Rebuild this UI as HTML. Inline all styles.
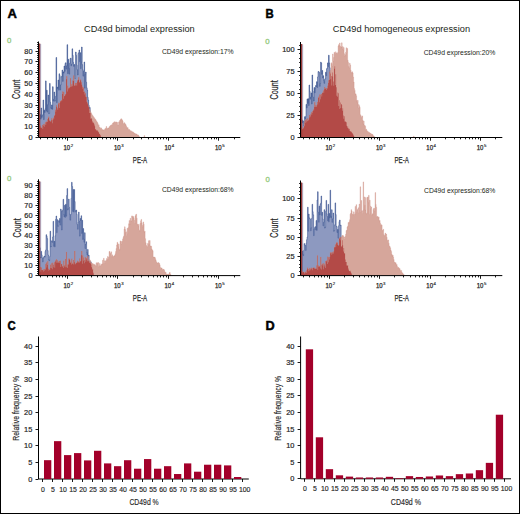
<!DOCTYPE html>
<html><head><meta charset="utf-8"><style>
html,body{margin:0;padding:0;background:#fff;}
svg{display:block;font-family:"Liberation Sans", sans-serif;}
</style></head><body>
<svg width="520" height="514" viewBox="0 0 520 514" font-family="Liberation Sans, sans-serif"><rect x="0" y="0" width="520" height="514" fill="#fff"/><rect x="40.25" y="44.00" width="0.9" height="93.50" fill="#a3aed2"/><path d="M39.60 137.50V114.25H40.10V115.13H40.60V119.09H41.10V108.00H41.60V117.35H42.10V115.69H42.60V114.75H43.10V100.00H43.60V119.59H44.10V110.31H44.60V112.35H45.10V108.68H45.60V80.90H46.10V110.72H46.60V90.20H47.10V112.16H47.60V104.65H48.10V95.00H48.60V113.57H49.10V113.31H49.60V83.40H50.10V102.25H50.60V107.66H51.10V108.69H51.60V104.94H52.10V109.29H52.60V86.70H53.10V101.13H53.60V99.29H54.10V92.00H54.60V101.12H55.10V100.62H55.60V96.27H56.10V57.50H56.60V102.70H57.10V87.09H57.60V88.51H58.10V80.00H58.60V90.20H59.10V73.78H59.60V75.63H60.10V89.96H60.60V84.86H61.10V76.76H61.60V76.49H62.10V70.00H62.60V81.35H63.10V71.83H63.60V73.14H64.10V66.00H64.60V71.32H65.10V63.42H65.60V62.76H66.10V69.16H66.60V65.85H67.10V44.70H67.60V73.59H68.10V59.29H68.60V68.21H69.10V74.18H69.60V63.19H70.10V58.44H70.60V58.24H71.10V65.84H71.60V64.09H72.10V48.80H72.60V55.37H73.10V62.37H73.60V66.39H74.10V64.47H74.60V78.53H75.10V78.53H75.60V52.00H76.10V55.40H76.60V65.15H77.10V69.70H77.60V75.01H78.10V53.40H78.60V52.72H79.10V50.00H79.60V61.69H80.10V52.69H80.60V68.59H81.10V61.89H81.60V47.00H82.10V64.62H82.60V69.68H83.10V76.20H83.60V71.15H84.10V62.00H84.60V88.19H85.10V74.23H85.60V72.00H86.10V82.23H86.60V87.81H87.10V90.09H87.60V97.32H88.10V100.10H88.60V105.19H89.10V112.94H89.60V107.45H90.10V113.05H90.60V118.85H91.10V118.11H91.60V119.37H92.10V121.29H92.60V122.43H93.10V122.48H93.60V123.23H94.10V124.46H94.60V126.29H95.10V129.22H95.60V129.36H96.10V130.58H96.60V130.31H97.10V130.36H97.60V131.16H98.10V131.84H98.60V132.48H99.10V133.93H99.60V133.81H100.10V134.93H100.60V136.44H101.10V137.41H101.60V137.50Z" fill="#8d99c0"/><path d="M39.60 137.50V114.25H40.10V115.13H40.60V119.09H41.10V108.00H41.60V117.35H42.10V115.69H42.60V114.75H43.10V100.00H43.60V119.59H44.10V110.31H44.60V112.35H45.10V108.68H45.60V80.90H46.10V110.72H46.60V90.20H47.10V112.16H47.60V104.65H48.10V95.00H48.60V113.57H49.10V113.31H49.60V83.40H50.10V102.25H50.60V107.66H51.10V108.69H51.60V104.94H52.10V109.29H52.60V86.70H53.10V101.13H53.60V99.29H54.10V92.00H54.60V101.12H55.10V100.62H55.60V96.27H56.10V57.50H56.60V102.70H57.10V87.09H57.60V88.51H58.10V80.00H58.60V90.20H59.10V73.78H59.60V75.63H60.10V89.96H60.60V84.86H61.10V76.76H61.60V76.49H62.10V70.00H62.60V81.35H63.10V71.83H63.60V73.14H64.10V66.00H64.60V71.32H65.10V63.42H65.60V62.76H66.10V69.16H66.60V65.85H67.10V44.70H67.60V73.59H68.10V59.29H68.60V68.21H69.10V74.18H69.60V63.19H70.10V58.44H70.60V58.24H71.10V65.84H71.60V64.09H72.10V48.80H72.60V55.37H73.10V62.37H73.60V66.39H74.10V64.47H74.60V78.53H75.10V78.53H75.60V52.00H76.10V55.40H76.60V65.15H77.10V69.70H77.60V75.01H78.10V53.40H78.60V52.72H79.10V50.00H79.60V61.69H80.10V52.69H80.60V68.59H81.10V61.89H81.60V47.00H82.10V64.62H82.60V69.68H83.10V76.20H83.60V71.15H84.10V62.00H84.60V88.19H85.10V74.23H85.60V72.00H86.10V82.23H86.60V87.81H87.10V90.09H87.60V97.32H88.10V100.10H88.60V105.19H89.10V112.94H89.60V107.45H90.10V113.05H90.60V118.85H91.10V118.11H91.60V119.37H92.10V121.29H92.60V122.43H93.10V122.48H93.60V123.23H94.10V124.46H94.60V126.29H95.10V129.22H95.60V129.36H96.10V130.58H96.60V130.31H97.10V130.36H97.60V131.16H98.10V131.84H98.60V132.48H99.10V133.93H99.60V133.81H100.10V134.93H100.60V136.44H101.10V137.41H101.60V137.50" fill="none" stroke="#2c4888" stroke-width="0.6"/><path d="M39.60 137.50V127.01H40.10V125.84H40.60V127.82H41.10V128.11H41.60V127.49H42.10V125.12H42.60V128.89H43.10V125.71H43.60V123.90H44.10V126.86H44.60V124.37H45.10V122.24H45.60V124.89H46.10V122.37H46.60V121.40H47.10V122.01H47.60V119.08H48.10V118.08H48.60V116.73H49.10V120.17H49.60V121.07H50.10V121.14H50.60V121.69H51.10V120.33H51.60V118.31H52.10V123.34H52.60V119.73H53.10V117.83H53.60V119.26H54.10V115.94H54.60V115.04H55.10V109.85H55.60V111.70H56.10V105.32H56.60V107.10H57.10V108.37H57.60V109.74H58.10V104.13H58.60V102.86H59.10V108.04H59.60V103.07H60.10V100.93H60.60V101.70H61.10V100.01H61.60V101.04H62.10V94.06H62.60V91.51H63.10V98.64H63.60V92.06H64.10V95.99H64.60V96.34H65.10V94.44H65.60V94.23H66.10V79.22H66.60V76.29H67.10V91.56H67.60V85.75H68.10V88.02H68.60V89.23H69.10V87.81H69.60V87.49H70.10V78.27H70.60V86.93H71.10V86.42H71.60V84.14H72.10V86.28H72.60V80.43H73.10V81.06H73.60V75.60H74.10V85.70H74.60V85.38H75.10V83.12H75.60V85.52H76.10V83.03H76.60V85.39H77.10V81.60H77.60V80.00H78.10V79.79H78.60V77.35H79.10V82.37H79.60V82.56H80.10V79.48H80.60V80.40H81.10V82.29H81.60V84.81H82.10V86.78H82.60V88.72H83.10V87.55H83.60V92.10H84.10V91.54H84.60V94.39H85.10V93.28H85.60V96.66H86.10V96.98H86.60V101.69H87.10V102.84H87.60V104.33H88.10V106.28H88.60V107.34H89.10V108.85H89.60V109.90H90.10V111.61H90.60V112.36H91.10V113.24H91.60V114.29H92.10V115.35H92.60V115.63H93.10V116.62H93.60V117.56H94.10V117.83H94.60V118.73H95.10V119.33H95.60V119.85H96.10V120.88H96.60V121.83H97.10V122.21H97.60V123.53H98.10V125.79H98.60V124.79H99.10V127.79H99.60V127.06H100.10V128.50H100.60V128.37H101.10V127.90H101.60V129.58H102.10V130.05H102.60V129.51H103.10V130.10H103.60V130.31H104.10V130.15H104.60V129.14H105.10V128.46H105.60V128.62H106.10V126.47H106.60V128.81H107.10V128.86H107.60V128.03H108.10V127.97H108.60V127.97H109.10V126.73H109.60V126.41H110.10V125.76H110.60V125.29H111.10V125.34H111.60V124.77H112.10V124.39H112.60V123.00H113.10V123.05H113.60V122.20H114.10V122.24H114.60V121.70H115.10V122.18H115.60V122.30H116.10V121.97H116.60V122.16H117.10V122.52H117.60V124.99H118.10V124.95H118.60V121.92H119.10V121.67H119.60V120.49H120.10V120.00H120.60V119.02H121.10V118.79H121.60V119.54H122.10V120.09H122.60V121.32H123.10V123.50H123.60V123.67H124.10V122.67H124.60V123.50H125.10V124.01H125.60V124.77H126.10V126.01H126.60V127.61H127.10V128.28H127.60V127.58H128.10V129.18H128.60V129.68H129.10V129.47H129.60V130.23H130.10V130.67H130.60V130.89H131.10V130.94H131.60V131.72H132.10V131.71H132.60V131.95H133.10V132.11H133.60V132.99H134.10V133.04H134.60V133.59H135.10V133.68H135.60V134.18H136.10V133.99H136.60V134.17H137.10V134.95H137.60V135.24H138.10V134.96H138.60V135.97H139.10V136.73H139.60V137.50ZM144.10 137.50V135.60H144.60V137.50Z" fill="#d6a69b" stroke="#cd8f82" stroke-width="0.35"/><path d="M39.60 137.50V127.01H40.10V125.84H40.60V127.82H41.10V128.11H41.60V127.49H42.10V125.12H42.60V128.89H43.10V125.71H43.60V123.90H44.10V126.86H44.60V124.37H45.10V122.24H45.60V124.89H46.10V122.37H46.60V121.40H47.10V122.01H47.60V119.08H48.10V118.08H48.60V116.73H49.10V120.17H49.60V121.07H50.10V121.14H50.60V121.69H51.10V120.33H51.60V118.31H52.10V123.34H52.60V119.73H53.10V117.83H53.60V119.26H54.10V115.94H54.60V115.04H55.10V109.85H55.60V111.70H56.10V105.32H56.60V107.10H57.10V108.37H57.60V109.74H58.10V104.13H58.60V102.86H59.10V108.04H59.60V103.07H60.10V100.93H60.60V101.70H61.10V100.01H61.60V101.04H62.10V94.06H62.60V91.51H63.10V98.64H63.60V92.06H64.10V95.99H64.60V96.34H65.10V94.44H65.60V94.23H66.10V79.22H66.60V76.29H67.10V91.56H67.60V85.75H68.10V88.02H68.60V89.23H69.10V87.81H69.60V87.49H70.10V78.27H70.60V86.93H71.10V86.42H71.60V84.14H72.10V86.28H72.60V80.43H73.10V81.06H73.60V75.60H74.10V85.70H74.60V85.38H75.10V83.12H75.60V85.52H76.10V83.03H76.60V85.39H77.10V81.60H77.60V80.00H78.10V79.79H78.60V77.35H79.10V82.37H79.60V82.56H80.10V79.48H80.60V80.40H81.10V82.29H81.60V84.81H82.10V86.78H82.60V88.72H83.10V87.55H83.60V92.10H84.10V91.54H84.60V94.39H85.10V93.28H85.60V96.66H86.10V96.98H86.60V101.69H87.10V102.84H87.60V104.33H88.10V106.28H88.60V107.34H89.10V112.94H89.60V109.90H90.10V113.05H90.60V118.85H91.10V118.11H91.60V119.37H92.10V121.29H92.60V122.43H93.10V122.48H93.60V123.23H94.10V124.46H94.60V126.29H95.10V129.22H95.60V129.36H96.10V130.58H96.60V130.31H97.10V130.36H97.60V131.16H98.10V131.84H98.60V132.48H99.10V133.93H99.60V133.81H100.10V134.93H100.60V136.44H101.10V137.41H101.60V137.50Z" fill="#b34a47"/><rect x="39.00" y="43.50" width="1.25" height="94.00" fill="#9a3a36"/><path d="M38.50 41.50V137.50H240.30" fill="none" stroke="#000" stroke-width="1"/><path d="M35.50 137.50H38.50M37.10 135.50H38.50M37.10 133.50H38.50M37.10 131.50H38.50M37.10 128.50H38.50M35.50 126.50H38.50M37.10 124.50H38.50M37.10 122.50H38.50M37.10 120.50H38.50M37.10 118.50H38.50M35.50 115.50H38.50M37.10 113.50H38.50M37.10 111.50H38.50M37.10 109.50H38.50M37.10 107.50H38.50M35.50 105.50H38.50M37.10 102.50H38.50M37.10 100.50H38.50M37.10 98.50H38.50M37.10 96.50H38.50M35.50 94.50H38.50M37.10 92.50H38.50M37.10 89.50H38.50M37.10 87.50H38.50M37.10 85.50H38.50M35.50 83.50H38.50M37.10 81.50H38.50M37.10 79.50H38.50M37.10 77.50H38.50M37.10 74.50H38.50M35.50 72.50H38.50M37.10 70.50H38.50M37.10 68.50H38.50M37.10 66.50H38.50M37.10 64.50H38.50M35.50 61.50H38.50M37.10 59.50H38.50M37.10 57.50H38.50M37.10 55.50H38.50M37.10 53.50H38.50M35.50 51.50H38.50M37.10 48.50H38.50M37.10 46.50H38.50M37.10 44.50H38.50M37.10 42.50H38.50M40.50 137.50V139.30M47.50 137.50V139.30M52.50 137.50V139.30M56.50 137.50V139.30M59.50 137.50V139.30M62.50 137.50V139.30M65.50 137.50V139.30M67.50 137.50V140.70M82.50 137.50V139.30M91.50 137.50V139.30M97.50 137.50V139.30M102.50 137.50V139.30M106.50 137.50V139.30M110.50 137.50V139.30M113.50 137.50V139.30M115.50 137.50V139.30M117.50 137.50V140.70M133.50 137.50V139.30M141.50 137.50V139.30M148.50 137.50V139.30M153.50 137.50V139.30M157.50 137.50V139.30M160.50 137.50V139.30M163.50 137.50V139.30M166.50 137.50V139.30M168.50 137.50V140.70M183.50 137.50V139.30M192.50 137.50V139.30M198.50 137.50V139.30M203.50 137.50V139.30M207.50 137.50V139.30M211.50 137.50V139.30M214.50 137.50V139.30M216.50 137.50V139.30M218.50 137.50V140.70M234.50 137.50V139.30" stroke="#000" stroke-width="0.9" fill="none"/><text x="32.50" y="140.00" font-size="7.4" fill="#262626" stroke="#262626" stroke-width="0.2" text-anchor="end">0</text><text x="32.50" y="129.20" font-size="7.4" fill="#262626" stroke="#262626" stroke-width="0.2" text-anchor="end">10</text><text x="32.50" y="118.40" font-size="7.4" fill="#262626" stroke="#262626" stroke-width="0.2" text-anchor="end">20</text><text x="32.50" y="107.60" font-size="7.4" fill="#262626" stroke="#262626" stroke-width="0.2" text-anchor="end">30</text><text x="32.50" y="96.80" font-size="7.4" fill="#262626" stroke="#262626" stroke-width="0.2" text-anchor="end">40</text><text x="32.50" y="86.00" font-size="7.4" fill="#262626" stroke="#262626" stroke-width="0.2" text-anchor="end">50</text><text x="32.50" y="75.20" font-size="7.4" fill="#262626" stroke="#262626" stroke-width="0.2" text-anchor="end">60</text><text x="32.50" y="64.40" font-size="7.4" fill="#262626" stroke="#262626" stroke-width="0.2" text-anchor="end">70</text><text x="32.50" y="53.60" font-size="7.4" fill="#262626" stroke="#262626" stroke-width="0.2" text-anchor="end">80</text><text x="63.50" y="149.70" font-size="6.8" fill="#262626" stroke="#262626" stroke-width="0.25" textLength="6.70" lengthAdjust="spacingAndGlyphs">10</text><text x="70.70" y="146.60" font-size="4.3" fill="#262626" stroke="#262626" stroke-width="0.15">2</text><text x="114.00" y="149.70" font-size="6.8" fill="#262626" stroke="#262626" stroke-width="0.25" textLength="6.70" lengthAdjust="spacingAndGlyphs">10</text><text x="121.20" y="146.60" font-size="4.3" fill="#262626" stroke="#262626" stroke-width="0.15">3</text><text x="164.50" y="149.70" font-size="6.8" fill="#262626" stroke="#262626" stroke-width="0.25" textLength="6.70" lengthAdjust="spacingAndGlyphs">10</text><text x="171.70" y="146.60" font-size="4.3" fill="#262626" stroke="#262626" stroke-width="0.15">4</text><text x="215.00" y="149.70" font-size="6.8" fill="#262626" stroke="#262626" stroke-width="0.25" textLength="6.70" lengthAdjust="spacingAndGlyphs">10</text><text x="222.20" y="146.60" font-size="4.3" fill="#262626" stroke="#262626" stroke-width="0.15">5</text><rect x="40.25" y="181.80" width="0.9" height="93.80" fill="#a3aed2"/><path d="M39.60 275.60V247.77H40.10V257.27H40.60V258.00H41.10V251.41H41.60V254.86H42.10V257.87H42.60V261.83H43.10V258.32H43.60V257.08H44.10V256.08H44.60V257.13H45.10V251.40H45.60V250.01H46.10V234.70H46.60V236.30H47.10V238.59H47.60V250.57H48.10V255.04H48.60V259.60H49.10V260.60H49.60V256.58H50.10V231.20H50.60V246.93H51.10V246.49H51.60V240.78H52.10V242.43H52.60V236.95H53.10V221.30H53.60V246.31H54.10V241.17H54.60V246.84H55.10V235.72H55.60V219.36H56.10V216.00H56.60V232.66H57.10V219.64H57.60V226.20H58.10V226.06H58.60V220.63H59.10V222.41H59.60V218.44H60.10V225.15H60.60V209.01H61.10V210.73H61.60V230.00H62.10V211.25H62.60V209.92H63.10V199.30H63.60V214.57H64.10V216.83H64.60V205.26H65.10V217.40H65.60V204.28H66.10V216.11H66.60V195.56H67.10V188.60H67.60V210.01H68.10V208.33H68.60V199.08H69.10V207.33H69.60V214.25H70.10V220.21H70.60V214.56H71.10V198.40H71.60V182.30H72.10V186.53H72.60V211.32H73.10V189.48H73.60V212.14H74.10V189.60H74.60V201.60H75.10V210.38H75.60V211.96H76.10V210.09H76.60V214.32H77.10V224.42H77.60V229.23H78.10V222.10H78.60V212.09H79.10V221.27H79.60V236.07H80.10V218.40H80.60V220.49H81.10V215.74H81.60V233.37H82.10V220.32H82.60V239.37H83.10V228.55H83.60V239.14H84.10V242.25H84.60V232.69H85.10V248.59H85.60V244.12H86.10V241.75H86.60V252.56H87.10V255.03H87.60V249.42H88.10V256.17H88.60V255.16H89.10V262.84H89.60V261.17H90.10V263.56H90.60V261.82H91.10V267.15H91.60V264.46H92.10V269.76H92.60V268.66H93.10V272.87H93.60V274.87H94.10V275.60Z" fill="#8d99c0"/><path d="M39.60 275.60V247.77H40.10V257.27H40.60V258.00H41.10V251.41H41.60V254.86H42.10V257.87H42.60V261.83H43.10V258.32H43.60V257.08H44.10V256.08H44.60V257.13H45.10V251.40H45.60V250.01H46.10V234.70H46.60V236.30H47.10V238.59H47.60V250.57H48.10V255.04H48.60V259.60H49.10V260.60H49.60V256.58H50.10V231.20H50.60V246.93H51.10V246.49H51.60V240.78H52.10V242.43H52.60V236.95H53.10V221.30H53.60V246.31H54.10V241.17H54.60V246.84H55.10V235.72H55.60V219.36H56.10V216.00H56.60V232.66H57.10V219.64H57.60V226.20H58.10V226.06H58.60V220.63H59.10V222.41H59.60V218.44H60.10V225.15H60.60V209.01H61.10V210.73H61.60V230.00H62.10V211.25H62.60V209.92H63.10V199.30H63.60V214.57H64.10V216.83H64.60V205.26H65.10V217.40H65.60V204.28H66.10V216.11H66.60V195.56H67.10V188.60H67.60V210.01H68.10V208.33H68.60V199.08H69.10V207.33H69.60V214.25H70.10V220.21H70.60V214.56H71.10V198.40H71.60V182.30H72.10V186.53H72.60V211.32H73.10V189.48H73.60V212.14H74.10V189.60H74.60V201.60H75.10V210.38H75.60V211.96H76.10V210.09H76.60V214.32H77.10V224.42H77.60V229.23H78.10V222.10H78.60V212.09H79.10V221.27H79.60V236.07H80.10V218.40H80.60V220.49H81.10V215.74H81.60V233.37H82.10V220.32H82.60V239.37H83.10V228.55H83.60V239.14H84.10V242.25H84.60V232.69H85.10V248.59H85.60V244.12H86.10V241.75H86.60V252.56H87.10V255.03H87.60V249.42H88.10V256.17H88.60V255.16H89.10V262.84H89.60V261.17H90.10V263.56H90.60V261.82H91.10V267.15H91.60V264.46H92.10V269.76H92.60V268.66H93.10V272.87H93.60V274.87H94.10V275.60" fill="none" stroke="#2c4888" stroke-width="0.55"/><path d="M39.60 275.60V271.02H40.10V266.96H40.60V271.63H41.10V267.53H41.60V270.10H42.10V270.09H42.60V270.26H43.10V271.43H43.60V269.21H44.10V270.84H44.60V269.09H45.10V269.84H45.60V263.96H46.10V262.56H46.60V267.44H47.10V264.91H47.60V261.23H48.10V268.67H48.60V270.83H49.10V269.56H49.60V269.99H50.10V264.81H50.60V268.05H51.10V268.14H51.60V263.17H52.10V269.16H52.60V262.82H53.10V264.78H53.60V267.23H54.10V262.37H54.60V267.65H55.10V261.52H55.60V260.27H56.10V259.20H56.60V262.67H57.10V260.21H57.60V262.65H58.10V262.70H58.60V261.58H59.10V261.00H59.60V262.91H60.10V260.80H60.60V267.02H61.10V264.31H61.60V263.95H62.10V266.44H62.60V266.20H63.10V267.91H63.60V260.78H64.10V266.49H64.60V265.27H65.10V259.01H65.60V267.16H66.10V252.00H66.60V267.31H67.10V267.92H67.60V264.40H68.10V264.42H68.60V258.69H69.10V258.87H69.60V259.96H70.10V262.98H70.60V261.79H71.10V264.48H71.60V258.79H72.10V263.16H72.60V264.09H73.10V260.05H73.60V264.53H74.10V262.23H74.60V251.00H75.10V264.23H75.60V263.60H76.10V262.88H76.60V262.41H77.10V260.78H77.60V262.40H78.10V261.57H78.60V262.41H79.10V262.49H79.60V258.56H80.10V261.54H80.60V261.06H81.10V255.30H81.60V251.00H82.10V263.68H82.60V255.42H83.10V260.74H83.60V257.45H84.10V263.23H84.60V260.08H85.10V257.23H85.60V261.67H86.10V258.12H86.60V259.49H87.10V261.24H87.60V256.02H88.10V261.26H88.60V260.62H89.10V259.41H89.60V262.16H90.10V260.32H90.60V262.32H91.10V263.02H91.60V263.69H92.10V263.46H92.60V263.67H93.10V263.89H93.60V264.67H94.10V264.75H94.60V264.45H95.10V265.52H95.60V265.54H96.10V262.77H96.60V265.95H97.10V262.72H97.60V263.94H98.10V262.59H98.60V266.80H99.10V265.63H99.60V263.44H100.10V265.97H100.60V265.46H101.10V264.23H101.60V264.22H102.10V263.77H102.60V260.17H103.10V263.15H103.60V258.23H104.10V260.77H104.60V263.53H105.10V260.85H105.60V262.38H106.10V260.26H106.60V258.56H107.10V259.61H107.60V256.46H108.10V258.43H108.60V257.06H109.10V251.48H109.60V251.56H110.10V253.69H110.60V252.88H111.10V251.83H111.60V256.60H112.10V254.85H112.60V256.61H113.10V256.49H113.60V256.33H114.10V255.59H114.60V255.77H115.10V253.80H115.60V251.57H116.10V248.49H116.60V245.07H117.10V242.24H117.60V243.58H118.10V246.71H118.60V244.13H119.10V250.11H119.60V248.88H120.10V240.90H120.60V241.38H121.10V244.06H121.60V241.58H122.10V241.17H122.60V238.96H123.10V237.37H123.60V236.01H124.10V229.11H124.60V226.71H125.10V229.61H125.60V232.28H126.10V235.39H126.60V231.73H127.10V228.30H127.60V233.41H128.10V227.46H128.60V223.78H129.10V220.53H129.60V224.11H130.10V218.27H130.60V221.27H131.10V220.63H131.60V215.92H132.10V215.96H132.60V216.99H133.10V216.56H133.60V217.83H134.10V220.16H134.60V223.23H135.10V216.01H135.60V214.81H136.10V214.22H136.60V218.13H137.10V224.31H137.60V224.20H138.10V225.91H138.60V224.39H139.10V229.99H139.60V231.09H140.10V223.32H140.60V220.83H141.10V219.39H141.60V222.69H142.10V225.21H142.60V226.81H143.10V221.94H143.60V224.17H144.10V232.07H144.60V231.14H145.10V238.63H145.60V242.87H146.10V245.29H146.60V246.16H147.10V246.81H147.60V243.47H148.10V244.55H148.60V240.70H149.10V244.24H149.60V240.45H150.10V245.89H150.60V245.93H151.10V246.36H151.60V248.97H152.10V250.08H152.60V250.76H153.10V256.96H153.60V257.10H154.10V257.42H154.60V257.00H155.10V258.55H155.60V259.91H156.10V261.64H156.60V262.47H157.10V263.11H157.60V263.28H158.10V262.46H158.60V263.28H159.10V263.36H159.60V264.86H160.10V267.14H160.60V268.40H161.10V268.09H161.60V267.93H162.10V269.66H162.60V269.24H163.10V269.50H163.60V269.34H164.10V270.18H164.60V271.66H165.10V272.57H165.60V272.37H166.10V273.96H166.60V274.82H167.10V273.99H167.60V275.05H168.10V274.56H168.60V273.96H169.10V273.48H169.60V272.35H170.10V274.06H170.60V274.88H171.10V275.60Z" fill="#d6a69b" stroke="#cd8f82" stroke-width="0.35"/><path d="M39.60 275.60V271.02H40.10V266.96H40.60V271.63H41.10V267.53H41.60V270.10H42.10V270.09H42.60V270.26H43.10V271.43H43.60V269.21H44.10V270.84H44.60V269.09H45.10V269.84H45.60V263.96H46.10V262.56H46.60V267.44H47.10V264.91H47.60V261.23H48.10V268.67H48.60V270.83H49.10V269.56H49.60V269.99H50.10V264.81H50.60V268.05H51.10V268.14H51.60V263.17H52.10V269.16H52.60V262.82H53.10V264.78H53.60V267.23H54.10V262.37H54.60V267.65H55.10V261.52H55.60V260.27H56.10V259.20H56.60V262.67H57.10V260.21H57.60V262.65H58.10V262.70H58.60V261.58H59.10V261.00H59.60V262.91H60.10V260.80H60.60V267.02H61.10V264.31H61.60V263.95H62.10V266.44H62.60V266.20H63.10V267.91H63.60V260.78H64.10V266.49H64.60V265.27H65.10V259.01H65.60V267.16H66.10V252.00H66.60V267.31H67.10V267.92H67.60V264.40H68.10V264.42H68.60V258.69H69.10V258.87H69.60V259.96H70.10V262.98H70.60V261.79H71.10V264.48H71.60V258.79H72.10V263.16H72.60V264.09H73.10V260.05H73.60V264.53H74.10V262.23H74.60V251.00H75.10V264.23H75.60V263.60H76.10V262.88H76.60V262.41H77.10V260.78H77.60V262.40H78.10V261.57H78.60V262.41H79.10V262.49H79.60V258.56H80.10V261.54H80.60V261.06H81.10V255.30H81.60V251.00H82.10V263.68H82.60V255.42H83.10V260.74H83.60V257.45H84.10V263.23H84.60V260.08H85.10V257.23H85.60V261.67H86.10V258.12H86.60V259.49H87.10V261.24H87.60V256.02H88.10V261.26H88.60V260.62H89.10V262.84H89.60V262.16H90.10V263.56H90.60V262.32H91.10V267.15H91.60V264.46H92.10V269.76H92.60V268.66H93.10V272.87H93.60V274.87H94.10V275.60Z" fill="#b34a47"/><rect x="39.00" y="181.30" width="1.25" height="94.30" fill="#9a3a36"/><path d="M38.50 179.30V275.60H240.30" fill="none" stroke="#000" stroke-width="1"/><path d="M35.50 275.50H38.50M37.10 273.50H38.50M37.10 271.50H38.50M37.10 269.50H38.50M37.10 267.50H38.50M35.50 265.50H38.50M37.10 263.50H38.50M37.10 261.50H38.50M37.10 259.50H38.50M37.10 257.50H38.50M35.50 255.50H38.50M37.10 253.50H38.50M37.10 251.50H38.50M37.10 249.50H38.50M37.10 247.50H38.50M35.50 245.50H38.50M37.10 243.50H38.50M37.10 241.50H38.50M37.10 239.50H38.50M37.10 237.50H38.50M35.50 235.50H38.50M37.10 233.50H38.50M37.10 231.50H38.50M37.10 229.50H38.50M37.10 227.50H38.50M35.50 225.50H38.50M37.10 223.50H38.50M37.10 221.50H38.50M37.10 219.50H38.50M37.10 217.50H38.50M35.50 215.50H38.50M37.10 213.50H38.50M37.10 211.50H38.50M37.10 209.50H38.50M37.10 207.50H38.50M35.50 205.50H38.50M37.10 203.50H38.50M37.10 201.50H38.50M37.10 199.50H38.50M37.10 197.50H38.50M35.50 195.50H38.50M37.10 193.50H38.50M37.10 191.50H38.50M37.10 189.50H38.50M37.10 187.50H38.50M35.50 185.50H38.50M37.10 183.50H38.50M37.10 181.50H38.50M40.50 275.60V277.40M47.50 275.60V277.40M52.50 275.60V277.40M56.50 275.60V277.40M59.50 275.60V277.40M62.50 275.60V277.40M65.50 275.60V277.40M67.50 275.60V278.80M82.50 275.60V277.40M91.50 275.60V277.40M97.50 275.60V277.40M102.50 275.60V277.40M106.50 275.60V277.40M110.50 275.60V277.40M113.50 275.60V277.40M115.50 275.60V277.40M117.50 275.60V278.80M133.50 275.60V277.40M141.50 275.60V277.40M148.50 275.60V277.40M153.50 275.60V277.40M157.50 275.60V277.40M160.50 275.60V277.40M163.50 275.60V277.40M166.50 275.60V277.40M168.50 275.60V278.80M183.50 275.60V277.40M192.50 275.60V277.40M198.50 275.60V277.40M203.50 275.60V277.40M207.50 275.60V277.40M211.50 275.60V277.40M214.50 275.60V277.40M216.50 275.60V277.40M218.50 275.60V278.80M234.50 275.60V277.40" stroke="#000" stroke-width="0.9" fill="none"/><text x="32.50" y="278.10" font-size="7.4" fill="#262626" stroke="#262626" stroke-width="0.2" text-anchor="end">0</text><text x="32.50" y="268.10" font-size="7.4" fill="#262626" stroke="#262626" stroke-width="0.2" text-anchor="end">10</text><text x="32.50" y="258.10" font-size="7.4" fill="#262626" stroke="#262626" stroke-width="0.2" text-anchor="end">20</text><text x="32.50" y="248.10" font-size="7.4" fill="#262626" stroke="#262626" stroke-width="0.2" text-anchor="end">30</text><text x="32.50" y="238.10" font-size="7.4" fill="#262626" stroke="#262626" stroke-width="0.2" text-anchor="end">40</text><text x="32.50" y="228.10" font-size="7.4" fill="#262626" stroke="#262626" stroke-width="0.2" text-anchor="end">50</text><text x="32.50" y="218.10" font-size="7.4" fill="#262626" stroke="#262626" stroke-width="0.2" text-anchor="end">60</text><text x="32.50" y="208.10" font-size="7.4" fill="#262626" stroke="#262626" stroke-width="0.2" text-anchor="end">70</text><text x="32.50" y="198.10" font-size="7.4" fill="#262626" stroke="#262626" stroke-width="0.2" text-anchor="end">80</text><text x="32.50" y="188.10" font-size="7.4" fill="#262626" stroke="#262626" stroke-width="0.2" text-anchor="end">90</text><text x="63.50" y="287.80" font-size="6.8" fill="#262626" stroke="#262626" stroke-width="0.25" textLength="6.70" lengthAdjust="spacingAndGlyphs">10</text><text x="70.70" y="284.70" font-size="4.3" fill="#262626" stroke="#262626" stroke-width="0.15">2</text><text x="114.00" y="287.80" font-size="6.8" fill="#262626" stroke="#262626" stroke-width="0.25" textLength="6.70" lengthAdjust="spacingAndGlyphs">10</text><text x="121.20" y="284.70" font-size="4.3" fill="#262626" stroke="#262626" stroke-width="0.15">3</text><text x="164.50" y="287.80" font-size="6.8" fill="#262626" stroke="#262626" stroke-width="0.25" textLength="6.70" lengthAdjust="spacingAndGlyphs">10</text><text x="171.70" y="284.70" font-size="4.3" fill="#262626" stroke="#262626" stroke-width="0.15">4</text><text x="215.00" y="287.80" font-size="6.8" fill="#262626" stroke="#262626" stroke-width="0.25" textLength="6.70" lengthAdjust="spacingAndGlyphs">10</text><text x="222.20" y="284.70" font-size="4.3" fill="#262626" stroke="#262626" stroke-width="0.15">5</text><rect x="302.25" y="44.50" width="0.9" height="93.00" fill="#a3aed2"/><path d="M301.10 137.50V123.09H301.60V119.69H302.10V122.84H302.60V120.73H303.10V121.04H303.60V125.85H304.10V125.71H304.60V116.71H305.10V119.16H305.60V116.42H306.10V104.38H306.60V107.83H307.10V98.92H307.60V103.36H308.10V98.72H308.60V105.54H309.10V85.00H309.60V91.38H310.10V99.11H310.60V97.11H311.10V92.93H311.60V103.96H312.10V75.00H312.60V91.13H313.10V97.24H313.60V100.99H314.10V87.51H314.60V92.77H315.10V88.59H315.60V85.60H316.10V86.51H316.60V81.72H317.10V87.53H317.60V76.91H318.10V71.50H318.60V71.86H319.10V72.38H319.60V86.38H320.10V83.49H320.60V62.20H321.10V62.90H321.60V74.31H322.10V70.45H322.60V77.98H323.10V75.73H323.60V80.46H324.10V83.34H324.60V79.18H325.10V78.70H325.60V72.24H326.10V75.69H326.60V68.76H327.10V67.89H327.60V62.89H328.10V66.60H328.60V55.20H329.10V62.90H329.60V67.72H330.10V73.53H330.60V79.18H331.10V75.97H331.60V85.38H332.10V72.43H332.60V76.47H333.10V81.56H333.60V85.87H334.10V68.84H334.60V66.20H335.10V85.03H335.60V74.30H336.10V87.28H336.60V95.69H337.10V96.83H337.60V92.53H338.10V93.23H338.60V106.11H339.10V100.35H339.60V109.00H340.10V102.43H340.60V108.04H341.10V103.96H341.60V104.72H342.10V110.65H342.60V108.19H343.10V115.38H343.60V118.76H344.10V116.16H344.60V121.57H345.10V121.59H345.60V121.66H346.10V122.13H346.60V125.84H347.10V127.75H347.60V126.15H348.10V129.21H348.60V128.04H349.10V128.89H349.60V130.78H350.10V131.18H350.60V131.57H351.10V131.86H351.60V132.48H352.10V133.06H352.60V133.91H353.10V134.63H353.60V135.95H354.10V136.73H354.60V137.30H355.10V137.50Z" fill="#8d99c0"/><path d="M301.10 137.50V123.09H301.60V119.69H302.10V122.84H302.60V120.73H303.10V121.04H303.60V125.85H304.10V125.71H304.60V116.71H305.10V119.16H305.60V116.42H306.10V104.38H306.60V107.83H307.10V98.92H307.60V103.36H308.10V98.72H308.60V105.54H309.10V85.00H309.60V91.38H310.10V99.11H310.60V97.11H311.10V92.93H311.60V103.96H312.10V75.00H312.60V91.13H313.10V97.24H313.60V100.99H314.10V87.51H314.60V92.77H315.10V88.59H315.60V85.60H316.10V86.51H316.60V81.72H317.10V87.53H317.60V76.91H318.10V71.50H318.60V71.86H319.10V72.38H319.60V86.38H320.10V83.49H320.60V62.20H321.10V62.90H321.60V74.31H322.10V70.45H322.60V77.98H323.10V75.73H323.60V80.46H324.10V83.34H324.60V79.18H325.10V78.70H325.60V72.24H326.10V75.69H326.60V68.76H327.10V67.89H327.60V62.89H328.10V66.60H328.60V55.20H329.10V62.90H329.60V67.72H330.10V73.53H330.60V79.18H331.10V75.97H331.60V85.38H332.10V72.43H332.60V76.47H333.10V81.56H333.60V85.87H334.10V68.84H334.60V66.20H335.10V85.03H335.60V74.30H336.10V87.28H336.60V95.69H337.10V96.83H337.60V92.53H338.10V93.23H338.60V106.11H339.10V100.35H339.60V109.00H340.10V102.43H340.60V108.04H341.10V103.96H341.60V104.72H342.10V110.65H342.60V108.19H343.10V115.38H343.60V118.76H344.10V116.16H344.60V121.57H345.10V121.59H345.60V121.66H346.10V122.13H346.60V125.84H347.10V127.75H347.60V126.15H348.10V129.21H348.60V128.04H349.10V128.89H349.60V130.78H350.10V131.18H350.60V131.57H351.10V131.86H351.60V132.48H352.10V133.06H352.60V133.91H353.10V134.63H353.60V135.95H354.10V136.73H354.60V137.30H355.10V137.50" fill="none" stroke="#2c4888" stroke-width="0.6"/><path d="M301.60 137.50V127.30H302.10V129.14H302.60V128.94H303.10V128.19H303.60V127.23H304.10V123.80H304.60V121.53H305.10V119.91H305.60V123.01H306.10V119.13H306.60V121.84H307.10V120.88H307.60V118.37H308.10V120.57H308.60V119.77H309.10V114.94H309.60V117.53H310.10V116.42H310.60V114.17H311.10V112.36H311.60V114.84H312.10V112.69H312.60V111.02H313.10V109.62H313.60V110.44H314.10V106.96H314.60V102.36H315.10V107.06H315.60V105.16H316.10V106.93H316.60V105.49H317.10V101.92H317.60V104.61H318.10V97.94H318.60V96.79H319.10V102.30H319.60V94.57H320.10V99.24H320.60V94.79H321.10V94.10H321.60V96.54H322.10V93.06H322.60V92.38H323.10V90.42H323.60V92.79H324.10V89.22H324.60V87.04H325.10V88.56H325.60V88.84H326.10V90.00H326.60V88.07H327.10V88.39H327.60V85.63H328.10V83.01H328.60V80.25H329.10V80.06H329.60V71.86H330.10V70.23H330.60V72.97H331.10V62.80H331.60V63.73H332.10V66.09H332.60V54.02H333.10V60.94H333.60V57.53H334.10V52.24H334.60V53.29H335.10V53.54H335.60V51.81H336.10V52.96H336.60V53.52H337.10V53.41H337.60V52.60H338.10V46.01H338.60V44.63H339.10V45.77H339.60V42.96H340.10V46.06H340.60V47.22H341.10V47.10H341.60V42.76H342.10V48.95H342.60V46.62H343.10V49.85H343.60V47.55H344.10V53.66H344.60V56.06H345.10V54.83H345.60V52.29H346.10V47.78H346.60V52.63H347.10V48.43H347.60V60.37H348.10V62.45H348.60V66.47H349.10V67.63H349.60V63.18H350.10V64.93H350.60V70.36H351.10V72.24H351.60V72.83H352.10V71.82H352.60V73.02H353.10V77.04H353.60V82.04H354.10V88.55H354.60V90.39H355.10V93.90H355.60V93.85H356.10V95.74H356.60V100.61H357.10V102.60H357.60V100.33H358.10V107.95H358.60V104.58H359.10V105.78H359.60V107.32H360.10V114.64H360.60V115.44H361.10V116.70H361.60V117.78H362.10V115.91H362.60V120.28H363.10V124.12H363.60V121.01H364.10V125.15H364.60V125.48H365.10V126.14H365.60V129.66H366.10V129.18H366.60V130.60H367.10V131.15H367.60V131.48H368.10V131.89H368.60V132.39H369.10V132.56H369.60V133.11H370.10V133.30H370.60V133.56H371.10V134.04H371.60V134.32H372.10V134.31H372.60V134.80H373.10V135.92H373.60V136.12H374.10V136.85H374.60V137.50ZM413.60 137.50V136.20H414.10V137.50Z" fill="#d6a69b" stroke="#cd8f82" stroke-width="0.35"/><path d="M301.60 137.50V127.30H302.10V129.14H302.60V128.94H303.10V128.19H303.60V127.23H304.10V125.71H304.60V121.53H305.10V119.91H305.60V123.01H306.10V119.13H306.60V121.84H307.10V120.88H307.60V118.37H308.10V120.57H308.60V119.77H309.10V114.94H309.60V117.53H310.10V116.42H310.60V114.17H311.10V112.36H311.60V114.84H312.10V112.69H312.60V111.02H313.10V109.62H313.60V110.44H314.10V106.96H314.60V102.36H315.10V107.06H315.60V105.16H316.10V106.93H316.60V105.49H317.10V101.92H317.60V104.61H318.10V97.94H318.60V96.79H319.10V102.30H319.60V94.57H320.10V99.24H320.60V94.79H321.10V94.10H321.60V96.54H322.10V93.06H322.60V92.38H323.10V90.42H323.60V92.79H324.10V89.22H324.60V87.04H325.10V88.56H325.60V88.84H326.10V90.00H326.60V88.07H327.10V88.39H327.60V85.63H328.10V83.01H328.60V80.25H329.10V80.06H329.60V71.86H330.10V73.53H330.60V79.18H331.10V75.97H331.60V85.38H332.10V72.43H332.60V76.47H333.10V81.56H333.60V85.87H334.10V68.84H334.60V66.20H335.10V85.03H335.60V74.30H336.10V87.28H336.60V95.69H337.10V96.83H337.60V92.53H338.10V93.23H338.60V106.11H339.10V100.35H339.60V109.00H340.10V102.43H340.60V108.04H341.10V103.96H341.60V104.72H342.10V110.65H342.60V108.19H343.10V115.38H343.60V118.76H344.10V116.16H344.60V121.57H345.10V121.59H345.60V121.66H346.10V122.13H346.60V125.84H347.10V127.75H347.60V126.15H348.10V129.21H348.60V128.04H349.10V128.89H349.60V130.78H350.10V131.18H350.60V131.57H351.10V131.86H351.60V132.48H352.10V133.06H352.60V133.91H353.10V134.63H353.60V135.95H354.10V136.73H354.60V137.30H355.10V137.50Z" fill="#b34a47"/><rect x="301.00" y="44.00" width="1.25" height="93.50" fill="#9a3a36"/><path d="M300.50 42.00V137.50H502.30" fill="none" stroke="#000" stroke-width="1"/><path d="M297.50 137.50H300.50M299.10 133.50H300.50M299.10 128.50H300.50M299.10 124.50H300.50M299.10 119.50H300.50M297.50 115.50H300.50M299.10 111.50H300.50M299.10 106.50H300.50M299.10 102.50H300.50M299.10 97.50H300.50M297.50 93.50H300.50M299.10 89.50H300.50M299.10 84.50H300.50M299.10 80.50H300.50M299.10 75.50H300.50M297.50 71.50H300.50M299.10 67.50H300.50M299.10 62.50H300.50M299.10 58.50H300.50M299.10 53.50H300.50M297.50 49.50H300.50M299.10 45.50H300.50M303.50 137.50V139.30M309.50 137.50V139.30M314.50 137.50V139.30M318.50 137.50V139.30M321.50 137.50V139.30M324.50 137.50V139.30M327.50 137.50V139.30M329.50 137.50V140.70M344.50 137.50V139.30M353.50 137.50V139.30M359.50 137.50V139.30M364.50 137.50V139.30M368.50 137.50V139.30M371.50 137.50V139.30M374.50 137.50V139.30M377.50 137.50V139.30M379.50 137.50V140.70M394.50 137.50V139.30M403.50 137.50V139.30M410.50 137.50V139.30M415.50 137.50V139.30M419.50 137.50V139.30M422.50 137.50V139.30M425.50 137.50V139.30M427.50 137.50V139.30M430.50 137.50V140.70M445.50 137.50V139.30M454.50 137.50V139.30M460.50 137.50V139.30M465.50 137.50V139.30M469.50 137.50V139.30M472.50 137.50V139.30M475.50 137.50V139.30M478.50 137.50V139.30M480.50 137.50V140.70M495.50 137.50V139.30" stroke="#000" stroke-width="0.9" fill="none"/><text x="294.50" y="140.00" font-size="7.4" fill="#262626" stroke="#262626" stroke-width="0.2" text-anchor="end">0</text><text x="294.50" y="118.00" font-size="7.4" fill="#262626" stroke="#262626" stroke-width="0.2" text-anchor="end">25</text><text x="294.50" y="96.00" font-size="7.4" fill="#262626" stroke="#262626" stroke-width="0.2" text-anchor="end">50</text><text x="294.50" y="74.00" font-size="7.4" fill="#262626" stroke="#262626" stroke-width="0.2" text-anchor="end">75</text><text x="294.50" y="52.00" font-size="7.4" fill="#262626" stroke="#262626" stroke-width="0.2" text-anchor="end">100</text><text x="325.50" y="149.70" font-size="6.8" fill="#262626" stroke="#262626" stroke-width="0.25" textLength="6.70" lengthAdjust="spacingAndGlyphs">10</text><text x="332.70" y="146.60" font-size="4.3" fill="#262626" stroke="#262626" stroke-width="0.15">2</text><text x="375.90" y="149.70" font-size="6.8" fill="#262626" stroke="#262626" stroke-width="0.25" textLength="6.70" lengthAdjust="spacingAndGlyphs">10</text><text x="383.10" y="146.60" font-size="4.3" fill="#262626" stroke="#262626" stroke-width="0.15">3</text><text x="426.30" y="149.70" font-size="6.8" fill="#262626" stroke="#262626" stroke-width="0.25" textLength="6.70" lengthAdjust="spacingAndGlyphs">10</text><text x="433.50" y="146.60" font-size="4.3" fill="#262626" stroke="#262626" stroke-width="0.15">4</text><text x="476.70" y="149.70" font-size="6.8" fill="#262626" stroke="#262626" stroke-width="0.25" textLength="6.70" lengthAdjust="spacingAndGlyphs">10</text><text x="483.90" y="146.60" font-size="4.3" fill="#262626" stroke="#262626" stroke-width="0.15">5</text><rect x="302.25" y="183.00" width="0.9" height="92.60" fill="#a3aed2"/><path d="M302.10 275.60V251.07H302.60V254.20H303.10V255.62H303.60V250.42H304.10V243.56H304.60V245.13H305.10V245.27H305.60V250.46H306.10V243.20H306.60V239.71H307.10V237.07H307.60V207.20H308.10V231.23H308.60V214.01H309.10V217.80H309.60V218.63H310.10V219.13H310.60V230.76H311.10V227.74H311.60V218.34H312.10V204.30H312.60V211.65H313.10V214.85H313.60V235.62H314.10V228.94H314.60V227.57H315.10V226.64H315.60V229.93H316.10V220.48H316.60V230.43H317.10V200.00H317.60V191.70H318.10V212.22H318.60V222.22H319.10V206.15H319.60V214.84H320.10V204.37H320.60V203.29H321.10V196.00H321.60V215.41H322.10V212.24H322.60V219.05H323.10V225.88H323.60V222.26H324.10V209.66H324.60V228.05H325.10V227.12H325.60V211.23H326.10V200.40H326.60V213.84H327.10V216.52H327.60V220.77H328.10V204.34H328.60V221.89H329.10V213.48H329.60V217.92H330.10V190.20H330.60V216.30H331.10V217.63H331.60V209.69H332.10V222.40H332.60V218.72H333.10V213.01H333.60V231.25H334.10V230.52H334.60V224.82H335.10V202.90H335.60V214.59H336.10V226.23H336.60V226.62H337.10V232.55H337.60V229.43H338.10V238.23H338.60V225.77H339.10V221.64H339.60V220.02H340.10V225.35H340.60V225.12H341.10V246.34H341.60V246.81H342.10V240.36H342.60V245.20H343.10V251.49H343.60V248.05H344.10V253.18H344.60V253.52H345.10V259.55H345.60V261.92H346.10V262.05H346.60V265.43H347.10V265.94H347.60V264.91H348.10V268.38H348.60V270.36H349.10V270.95H349.60V271.26H350.10V270.76H350.60V272.21H351.10V273.24H351.60V274.38H352.10V275.19H352.60V275.60Z" fill="#8d99c0"/><path d="M302.10 275.60V251.07H302.60V254.20H303.10V255.62H303.60V250.42H304.10V243.56H304.60V245.13H305.10V245.27H305.60V250.46H306.10V243.20H306.60V239.71H307.10V237.07H307.60V207.20H308.10V231.23H308.60V214.01H309.10V217.80H309.60V218.63H310.10V219.13H310.60V230.76H311.10V227.74H311.60V218.34H312.10V204.30H312.60V211.65H313.10V214.85H313.60V235.62H314.10V228.94H314.60V227.57H315.10V226.64H315.60V229.93H316.10V220.48H316.60V230.43H317.10V200.00H317.60V191.70H318.10V212.22H318.60V222.22H319.10V206.15H319.60V214.84H320.10V204.37H320.60V203.29H321.10V196.00H321.60V215.41H322.10V212.24H322.60V219.05H323.10V225.88H323.60V222.26H324.10V209.66H324.60V228.05H325.10V227.12H325.60V211.23H326.10V200.40H326.60V213.84H327.10V216.52H327.60V220.77H328.10V204.34H328.60V221.89H329.10V213.48H329.60V217.92H330.10V190.20H330.60V216.30H331.10V217.63H331.60V209.69H332.10V222.40H332.60V218.72H333.10V213.01H333.60V231.25H334.10V230.52H334.60V224.82H335.10V202.90H335.60V214.59H336.10V226.23H336.60V226.62H337.10V232.55H337.60V229.43H338.10V238.23H338.60V225.77H339.10V221.64H339.60V220.02H340.10V225.35H340.60V225.12H341.10V246.34H341.60V246.81H342.10V240.36H342.60V245.20H343.10V251.49H343.60V248.05H344.10V253.18H344.60V253.52H345.10V259.55H345.60V261.92H346.10V262.05H346.60V265.43H347.10V265.94H347.60V264.91H348.10V268.38H348.60V270.36H349.10V270.95H349.60V271.26H350.10V270.76H350.60V272.21H351.10V273.24H351.60V274.38H352.10V275.19H352.60V275.60" fill="none" stroke="#2c4888" stroke-width="0.55"/><path d="M302.10 275.60V271.60H302.60V273.28H303.10V271.89H303.60V271.94H304.10V272.69H304.60V273.94H305.10V272.59H305.60V271.69H306.10V273.01H306.60V270.19H307.10V267.79H307.60V269.15H308.10V271.25H308.60V269.01H309.10V270.55H309.60V267.98H310.10V268.87H310.60V270.35H311.10V267.80H311.60V269.04H312.10V270.23H312.60V268.09H313.10V267.82H313.60V267.81H314.10V267.86H314.60V268.89H315.10V268.71H315.60V268.79H316.10V268.71H316.60V265.55H317.10V255.40H317.60V269.91H318.10V265.62H318.60V266.93H319.10V266.59H319.60V266.21H320.10V268.58H320.60V257.00H321.10V269.58H321.60V264.83H322.10V263.84H322.60V265.48H323.10V269.35H323.60V263.27H324.10V264.48H324.60V266.43H325.10V268.03H325.60V261.11H326.10V261.59H326.60V260.39H327.10V264.04H327.60V256.82H328.10V262.23H328.60V257.17H329.10V259.55H329.60V257.03H330.10V252.53H330.60V253.50H331.10V252.59H331.60V254.63H332.10V253.57H332.60V251.92H333.10V253.57H333.60V251.53H334.10V247.47H334.60V246.99H335.10V244.49H335.60V247.19H336.10V243.25H336.60V242.22H337.10V242.77H337.60V244.69H338.10V245.76H338.60V245.25H339.10V238.87H339.60V237.74H340.10V240.32H340.60V237.11H341.10V237.99H341.60V236.53H342.10V235.30H342.60V236.02H343.10V235.76H343.60V237.18H344.10V237.08H344.60V238.88H345.10V236.47H345.60V234.29H346.10V230.59H346.60V230.33H347.10V226.99H347.60V226.15H348.10V222.48H348.60V223.03H349.10V221.73H349.60V219.72H350.10V214.13H350.60V213.35H351.10V209.66H351.60V211.08H352.10V214.22H352.60V214.21H353.10V214.81H353.60V211.84H354.10V215.26H354.60V213.90H355.10V206.43H355.60V213.71H356.10V204.65H356.60V211.98H357.10V209.73H357.60V209.22H358.10V207.72H358.60V212.74H359.10V204.08H359.60V210.49H360.10V186.80H360.60V211.79H361.10V200.49H361.60V210.73H362.10V210.74H362.60V213.48H363.10V181.90H363.60V209.78H364.10V196.90H364.60V205.13H365.10V210.12H365.60V197.50H366.10V214.04H366.60V213.01H367.10V197.43H367.60V197.03H368.10V202.61H368.60V195.37H369.10V214.18H369.60V200.13H370.10V206.08H370.60V208.62H371.10V206.89H371.60V215.28H372.10V213.87H372.60V214.13H373.10V209.43H373.60V208.34H374.10V208.33H374.60V211.01H375.10V192.60H375.60V204.38H376.10V207.15H376.60V216.80H377.10V216.43H377.60V216.55H378.10V217.76H378.60V216.98H379.10V220.84H379.60V220.45H380.10V223.23H380.60V224.72H381.10V224.76H381.60V225.13H382.10V230.06H382.60V230.92H383.10V229.29H383.60V234.39H384.10V235.57H384.60V235.53H385.10V233.07H385.60V234.22H386.10V234.10H386.60V237.37H387.10V240.27H387.60V240.42H388.10V239.94H388.60V243.17H389.10V245.88H389.60V246.50H390.10V247.87H390.60V250.12H391.10V251.52H391.60V254.31H392.10V256.12H392.60V255.07H393.10V256.90H393.60V259.60H394.10V262.01H394.60V262.60H395.10V262.75H395.60V262.71H396.10V264.76H396.60V264.47H397.10V266.46H397.60V267.66H398.10V267.34H398.60V267.89H399.10V268.41H399.60V268.66H400.10V270.49H400.60V270.44H401.10V270.42H401.60V272.15H402.10V272.89H402.60V273.59H403.10V274.23H403.60V274.62H404.10V275.60Z" fill="#d6a69b" stroke="#cd8f82" stroke-width="0.35"/><path d="M302.10 275.60V271.60H302.60V273.28H303.10V271.89H303.60V271.94H304.10V272.69H304.60V273.94H305.10V272.59H305.60V271.69H306.10V273.01H306.60V270.19H307.10V267.79H307.60V269.15H308.10V271.25H308.60V269.01H309.10V270.55H309.60V267.98H310.10V268.87H310.60V270.35H311.10V267.80H311.60V269.04H312.10V270.23H312.60V268.09H313.10V267.82H313.60V267.81H314.10V267.86H314.60V268.89H315.10V268.71H315.60V268.79H316.10V268.71H316.60V265.55H317.10V255.40H317.60V269.91H318.10V265.62H318.60V266.93H319.10V266.59H319.60V266.21H320.10V268.58H320.60V257.00H321.10V269.58H321.60V264.83H322.10V263.84H322.60V265.48H323.10V269.35H323.60V263.27H324.10V264.48H324.60V266.43H325.10V268.03H325.60V261.11H326.10V261.59H326.60V260.39H327.10V264.04H327.60V256.82H328.10V262.23H328.60V257.17H329.10V259.55H329.60V257.03H330.10V252.53H330.60V253.50H331.10V252.59H331.60V254.63H332.10V253.57H332.60V251.92H333.10V253.57H333.60V251.53H334.10V247.47H334.60V246.99H335.10V244.49H335.60V247.19H336.10V243.25H336.60V242.22H337.10V242.77H337.60V244.69H338.10V245.76H338.60V245.25H339.10V238.87H339.60V237.74H340.10V240.32H340.60V237.11H341.10V246.34H341.60V246.81H342.10V240.36H342.60V245.20H343.10V251.49H343.60V248.05H344.10V253.18H344.60V253.52H345.10V259.55H345.60V261.92H346.10V262.05H346.60V265.43H347.10V265.94H347.60V264.91H348.10V268.38H348.60V270.36H349.10V270.95H349.60V271.26H350.10V270.76H350.60V272.21H351.10V273.24H351.60V274.38H352.10V275.19H352.60V275.60Z" fill="#b34a47"/><rect x="301.00" y="182.50" width="1.25" height="93.10" fill="#9a3a36"/><path d="M300.50 180.50V275.60H502.30" fill="none" stroke="#000" stroke-width="1"/><path d="M297.50 275.50H300.50M299.10 271.50H300.50M299.10 267.50H300.50M299.10 264.50H300.50M299.10 260.50H300.50M297.50 256.50H300.50M299.10 252.50H300.50M299.10 248.50H300.50M299.10 244.50H300.50M299.10 241.50H300.50M297.50 237.50H300.50M299.10 233.50H300.50M299.10 229.50H300.50M299.10 225.50H300.50M299.10 221.50H300.50M297.50 218.50H300.50M299.10 214.50H300.50M299.10 210.50H300.50M299.10 206.50H300.50M299.10 202.50H300.50M297.50 198.50H300.50M299.10 194.50H300.50M299.10 191.50H300.50M299.10 187.50H300.50M299.10 183.50H300.50M303.50 275.60V277.40M309.50 275.60V277.40M314.50 275.60V277.40M318.50 275.60V277.40M321.50 275.60V277.40M324.50 275.60V277.40M327.50 275.60V277.40M329.50 275.60V278.80M344.50 275.60V277.40M353.50 275.60V277.40M359.50 275.60V277.40M364.50 275.60V277.40M368.50 275.60V277.40M371.50 275.60V277.40M374.50 275.60V277.40M377.50 275.60V277.40M379.50 275.60V278.80M394.50 275.60V277.40M403.50 275.60V277.40M410.50 275.60V277.40M415.50 275.60V277.40M419.50 275.60V277.40M422.50 275.60V277.40M425.50 275.60V277.40M427.50 275.60V277.40M430.50 275.60V278.80M445.50 275.60V277.40M454.50 275.60V277.40M460.50 275.60V277.40M465.50 275.60V277.40M469.50 275.60V277.40M472.50 275.60V277.40M475.50 275.60V277.40M478.50 275.60V277.40M480.50 275.60V278.80M495.50 275.60V277.40" stroke="#000" stroke-width="0.9" fill="none"/><text x="294.50" y="278.10" font-size="7.4" fill="#262626" stroke="#262626" stroke-width="0.2" text-anchor="end">0</text><text x="294.50" y="258.90" font-size="7.4" fill="#262626" stroke="#262626" stroke-width="0.2" text-anchor="end">25</text><text x="294.50" y="239.70" font-size="7.4" fill="#262626" stroke="#262626" stroke-width="0.2" text-anchor="end">50</text><text x="294.50" y="220.50" font-size="7.4" fill="#262626" stroke="#262626" stroke-width="0.2" text-anchor="end">75</text><text x="294.50" y="201.30" font-size="7.4" fill="#262626" stroke="#262626" stroke-width="0.2" text-anchor="end">100</text><text x="325.50" y="287.80" font-size="6.8" fill="#262626" stroke="#262626" stroke-width="0.25" textLength="6.70" lengthAdjust="spacingAndGlyphs">10</text><text x="332.70" y="284.70" font-size="4.3" fill="#262626" stroke="#262626" stroke-width="0.15">2</text><text x="375.90" y="287.80" font-size="6.8" fill="#262626" stroke="#262626" stroke-width="0.25" textLength="6.70" lengthAdjust="spacingAndGlyphs">10</text><text x="383.10" y="284.70" font-size="4.3" fill="#262626" stroke="#262626" stroke-width="0.15">3</text><text x="426.30" y="287.80" font-size="6.8" fill="#262626" stroke="#262626" stroke-width="0.25" textLength="6.70" lengthAdjust="spacingAndGlyphs">10</text><text x="433.50" y="284.70" font-size="4.3" fill="#262626" stroke="#262626" stroke-width="0.15">4</text><text x="476.70" y="287.80" font-size="6.8" fill="#262626" stroke="#262626" stroke-width="0.25" textLength="6.70" lengthAdjust="spacingAndGlyphs">10</text><text x="483.90" y="284.70" font-size="4.3" fill="#262626" stroke="#262626" stroke-width="0.15">5</text><text x="7.50" y="17.60" font-size="12.2" fill="#000" stroke="#000" stroke-width="0.45" font-weight="bold" textLength="9.40" lengthAdjust="spacingAndGlyphs">A</text><text x="265.60" y="17.90" font-size="12.2" fill="#000" stroke="#000" stroke-width="0.45" font-weight="bold" textLength="8.20" lengthAdjust="spacingAndGlyphs">B</text><text x="7.60" y="330.00" font-size="12.2" fill="#000" stroke="#000" stroke-width="0.45" font-weight="bold" textLength="8.20" lengthAdjust="spacingAndGlyphs">C</text><text x="265.60" y="330.00" font-size="12.2" fill="#000" stroke="#000" stroke-width="0.45" font-weight="bold" textLength="9.20" lengthAdjust="spacingAndGlyphs">D</text><text x="84.00" y="32.10" font-size="9.6" fill="#231f20" textLength="110.70" lengthAdjust="spacingAndGlyphs">CD49d bimodal expression</text><text x="332.80" y="31.70" font-size="9.6" fill="#231f20" textLength="137.30" lengthAdjust="spacingAndGlyphs">CD49d homogeneous expression</text><text x="161.90" y="54.20" font-size="7.8" fill="#231f20" textLength="71.80" lengthAdjust="spacingAndGlyphs">CD49d expression:17%</text><text x="161.90" y="191.80" font-size="7.8" fill="#231f20" textLength="71.80" lengthAdjust="spacingAndGlyphs">CD49d expression:68%</text><text x="423.70" y="54.50" font-size="7.8" fill="#231f20" textLength="71.70" lengthAdjust="spacingAndGlyphs">CD49d expression:20%</text><text x="424.00" y="193.20" font-size="7.8" fill="#231f20" textLength="71.40" lengthAdjust="spacingAndGlyphs">CD49d expression:68%</text><text x="7.00" y="43.40" font-size="7.8" fill="#93c97a" stroke="#93c97a" stroke-width="0.3">0</text><text x="265.20" y="43.60" font-size="7.8" fill="#93c97a" stroke="#93c97a" stroke-width="0.3">0</text><text x="7.00" y="180.50" font-size="7.8" fill="#93c97a" stroke="#93c97a" stroke-width="0.3">0</text><text x="265.60" y="182.00" font-size="7.8" fill="#93c97a" stroke="#93c97a" stroke-width="0.3">0</text><text x="20.40" y="89.30" font-size="10.4" fill="#262626" stroke="#262626" stroke-width="0.2" text-anchor="middle" textLength="19.20" lengthAdjust="spacingAndGlyphs" transform="rotate(-90 20.40 89.30)">Count</text><text x="278.00" y="89.90" font-size="10.4" fill="#262626" stroke="#262626" stroke-width="0.2" text-anchor="middle" textLength="19.20" lengthAdjust="spacingAndGlyphs" transform="rotate(-90 278.00 89.90)">Count</text><text x="20.60" y="227.80" font-size="10.4" fill="#262626" stroke="#262626" stroke-width="0.2" text-anchor="middle" textLength="19.20" lengthAdjust="spacingAndGlyphs" transform="rotate(-90 20.60 227.80)">Count</text><text x="278.30" y="228.10" font-size="10.4" fill="#262626" stroke="#262626" stroke-width="0.2" text-anchor="middle" textLength="19.20" lengthAdjust="spacingAndGlyphs" transform="rotate(-90 278.30 228.10)">Count</text><text x="132.80" y="162.70" font-size="9.8" fill="#262626" stroke="#262626" stroke-width="0.25" textLength="14.30" lengthAdjust="spacingAndGlyphs">PE-A</text><text x="394.50" y="162.90" font-size="9.8" fill="#262626" stroke="#262626" stroke-width="0.25" textLength="14.30" lengthAdjust="spacingAndGlyphs">PE-A</text><text x="132.80" y="300.70" font-size="9.8" fill="#262626" stroke="#262626" stroke-width="0.25" textLength="14.30" lengthAdjust="spacingAndGlyphs">PE-A</text><text x="394.50" y="300.70" font-size="9.8" fill="#262626" stroke="#262626" stroke-width="0.25" textLength="14.30" lengthAdjust="spacingAndGlyphs">PE-A</text><path d="M38.50 336.50V479.00H248.80" fill="none" stroke="#000" stroke-width="1"/><text x="32.30" y="481.60" font-size="7.4" fill="#262626" stroke="#262626" stroke-width="0.2" text-anchor="end">0</text><text x="32.30" y="465.00" font-size="7.4" fill="#262626" stroke="#262626" stroke-width="0.2" text-anchor="end">5</text><text x="32.30" y="448.40" font-size="7.4" fill="#262626" stroke="#262626" stroke-width="0.2" text-anchor="end">10</text><text x="32.30" y="431.80" font-size="7.4" fill="#262626" stroke="#262626" stroke-width="0.2" text-anchor="end">15</text><text x="32.30" y="415.20" font-size="7.4" fill="#262626" stroke="#262626" stroke-width="0.2" text-anchor="end">20</text><text x="32.30" y="398.60" font-size="7.4" fill="#262626" stroke="#262626" stroke-width="0.2" text-anchor="end">25</text><text x="32.30" y="382.00" font-size="7.4" fill="#262626" stroke="#262626" stroke-width="0.2" text-anchor="end">30</text><text x="32.30" y="365.40" font-size="7.4" fill="#262626" stroke="#262626" stroke-width="0.2" text-anchor="end">35</text><text x="32.30" y="348.80" font-size="7.4" fill="#262626" stroke="#262626" stroke-width="0.2" text-anchor="end">40</text><text x="43.00" y="491.50" font-size="6.9" fill="#262626" stroke="#262626" stroke-width="0.15" text-anchor="middle">0</text><text x="53.00" y="491.50" font-size="6.9" fill="#262626" stroke="#262626" stroke-width="0.15" text-anchor="middle">5</text><text x="63.00" y="491.50" font-size="6.9" fill="#262626" stroke="#262626" stroke-width="0.15" text-anchor="middle">10</text><text x="73.00" y="491.50" font-size="6.9" fill="#262626" stroke="#262626" stroke-width="0.15" text-anchor="middle">15</text><text x="83.00" y="491.50" font-size="6.9" fill="#262626" stroke="#262626" stroke-width="0.15" text-anchor="middle">20</text><text x="93.00" y="491.50" font-size="6.9" fill="#262626" stroke="#262626" stroke-width="0.15" text-anchor="middle">25</text><text x="103.00" y="491.50" font-size="6.9" fill="#262626" stroke="#262626" stroke-width="0.15" text-anchor="middle">30</text><text x="113.00" y="491.50" font-size="6.9" fill="#262626" stroke="#262626" stroke-width="0.15" text-anchor="middle">35</text><text x="123.00" y="491.50" font-size="6.9" fill="#262626" stroke="#262626" stroke-width="0.15" text-anchor="middle">40</text><text x="133.00" y="491.50" font-size="6.9" fill="#262626" stroke="#262626" stroke-width="0.15" text-anchor="middle">45</text><text x="143.00" y="491.50" font-size="6.9" fill="#262626" stroke="#262626" stroke-width="0.15" text-anchor="middle">50</text><text x="153.00" y="491.50" font-size="6.9" fill="#262626" stroke="#262626" stroke-width="0.15" text-anchor="middle">55</text><text x="163.00" y="491.50" font-size="6.9" fill="#262626" stroke="#262626" stroke-width="0.15" text-anchor="middle">60</text><text x="173.00" y="491.50" font-size="6.9" fill="#262626" stroke="#262626" stroke-width="0.15" text-anchor="middle">65</text><text x="183.00" y="491.50" font-size="6.9" fill="#262626" stroke="#262626" stroke-width="0.15" text-anchor="middle">70</text><text x="193.00" y="491.50" font-size="6.9" fill="#262626" stroke="#262626" stroke-width="0.15" text-anchor="middle">75</text><text x="203.00" y="491.50" font-size="6.9" fill="#262626" stroke="#262626" stroke-width="0.15" text-anchor="middle">80</text><text x="213.00" y="491.50" font-size="6.9" fill="#262626" stroke="#262626" stroke-width="0.15" text-anchor="middle">85</text><text x="223.00" y="491.50" font-size="6.9" fill="#262626" stroke="#262626" stroke-width="0.15" text-anchor="middle">90</text><text x="233.00" y="491.50" font-size="6.9" fill="#262626" stroke="#262626" stroke-width="0.15" text-anchor="middle">95</text><text x="244.70" y="491.50" font-size="6.9" fill="#262626" stroke="#262626" stroke-width="0.15" text-anchor="middle">100</text><path d="M35.50 479.50H38.50M35.50 462.50H38.50M35.50 445.50H38.50M35.50 429.50H38.50M35.50 412.50H38.50M35.50 396.50H38.50M35.50 379.50H38.50M35.50 362.50H38.50M35.50 346.50H38.50M42.50 479.00V482.00M52.50 479.00V482.00M62.50 479.00V482.00M72.50 479.00V482.00M82.50 479.00V482.00M92.50 479.00V482.00M102.50 479.00V482.00M112.50 479.00V482.00M122.50 479.00V482.00M132.50 479.00V482.00M142.50 479.00V482.00M152.50 479.00V482.00M162.50 479.00V482.00M172.50 479.00V482.00M182.50 479.00V482.00M192.50 479.00V482.00M202.50 479.00V482.00M212.50 479.00V482.00M222.50 479.00V482.00M232.50 479.00V482.00M242.50 479.00V482.00" stroke="#000" stroke-width="0.9" fill="none"/><rect x="44.00" y="460.18" width="7.3" height="18.82" fill="#a3002a"/><rect x="54.00" y="441.15" width="7.3" height="37.85" fill="#a3002a"/><rect x="64.00" y="455.10" width="7.3" height="23.90" fill="#a3002a"/><rect x="74.00" y="453.10" width="7.3" height="25.90" fill="#a3002a"/><rect x="84.00" y="460.41" width="7.3" height="18.59" fill="#a3002a"/><rect x="94.00" y="450.78" width="7.3" height="28.22" fill="#a3002a"/><rect x="104.00" y="463.40" width="7.3" height="15.60" fill="#a3002a"/><rect x="114.00" y="466.18" width="7.3" height="12.82" fill="#a3002a"/><rect x="124.00" y="460.21" width="7.3" height="18.79" fill="#a3002a"/><rect x="134.00" y="468.71" width="7.3" height="10.29" fill="#a3002a"/><rect x="144.00" y="459.08" width="7.3" height="19.92" fill="#a3002a"/><rect x="154.00" y="468.71" width="7.3" height="10.29" fill="#a3002a"/><rect x="164.00" y="466.18" width="7.3" height="12.82" fill="#a3002a"/><rect x="174.00" y="474.02" width="7.3" height="4.98" fill="#a3002a"/><rect x="184.00" y="463.40" width="7.3" height="15.60" fill="#a3002a"/><rect x="194.00" y="471.70" width="7.3" height="7.30" fill="#a3002a"/><rect x="204.00" y="464.72" width="7.3" height="14.28" fill="#a3002a"/><rect x="214.00" y="464.72" width="7.3" height="14.28" fill="#a3002a"/><rect x="224.00" y="465.39" width="7.3" height="13.61" fill="#a3002a"/><rect x="234.00" y="477.01" width="7.3" height="1.99" fill="#a3002a"/><path d="M300.60 336.50V478.80H511.00" fill="none" stroke="#000" stroke-width="1"/><text x="294.40" y="481.40" font-size="7.4" fill="#262626" stroke="#262626" stroke-width="0.2" text-anchor="end">0</text><text x="294.40" y="464.80" font-size="7.4" fill="#262626" stroke="#262626" stroke-width="0.2" text-anchor="end">5</text><text x="294.40" y="448.20" font-size="7.4" fill="#262626" stroke="#262626" stroke-width="0.2" text-anchor="end">10</text><text x="294.40" y="431.60" font-size="7.4" fill="#262626" stroke="#262626" stroke-width="0.2" text-anchor="end">15</text><text x="294.40" y="415.00" font-size="7.4" fill="#262626" stroke="#262626" stroke-width="0.2" text-anchor="end">20</text><text x="294.40" y="398.40" font-size="7.4" fill="#262626" stroke="#262626" stroke-width="0.2" text-anchor="end">25</text><text x="294.40" y="381.80" font-size="7.4" fill="#262626" stroke="#262626" stroke-width="0.2" text-anchor="end">30</text><text x="294.40" y="365.20" font-size="7.4" fill="#262626" stroke="#262626" stroke-width="0.2" text-anchor="end">35</text><text x="294.40" y="348.60" font-size="7.4" fill="#262626" stroke="#262626" stroke-width="0.2" text-anchor="end">40</text><text x="304.80" y="491.30" font-size="6.9" fill="#262626" stroke="#262626" stroke-width="0.15" text-anchor="middle">0</text><text x="314.80" y="491.30" font-size="6.9" fill="#262626" stroke="#262626" stroke-width="0.15" text-anchor="middle">5</text><text x="324.80" y="491.30" font-size="6.9" fill="#262626" stroke="#262626" stroke-width="0.15" text-anchor="middle">10</text><text x="334.80" y="491.30" font-size="6.9" fill="#262626" stroke="#262626" stroke-width="0.15" text-anchor="middle">15</text><text x="344.80" y="491.30" font-size="6.9" fill="#262626" stroke="#262626" stroke-width="0.15" text-anchor="middle">20</text><text x="354.80" y="491.30" font-size="6.9" fill="#262626" stroke="#262626" stroke-width="0.15" text-anchor="middle">25</text><text x="364.80" y="491.30" font-size="6.9" fill="#262626" stroke="#262626" stroke-width="0.15" text-anchor="middle">30</text><text x="374.80" y="491.30" font-size="6.9" fill="#262626" stroke="#262626" stroke-width="0.15" text-anchor="middle">35</text><text x="384.80" y="491.30" font-size="6.9" fill="#262626" stroke="#262626" stroke-width="0.15" text-anchor="middle">40</text><text x="394.80" y="491.30" font-size="6.9" fill="#262626" stroke="#262626" stroke-width="0.15" text-anchor="middle">45</text><text x="404.80" y="491.30" font-size="6.9" fill="#262626" stroke="#262626" stroke-width="0.15" text-anchor="middle">50</text><text x="414.80" y="491.30" font-size="6.9" fill="#262626" stroke="#262626" stroke-width="0.15" text-anchor="middle">55</text><text x="424.80" y="491.30" font-size="6.9" fill="#262626" stroke="#262626" stroke-width="0.15" text-anchor="middle">60</text><text x="434.80" y="491.30" font-size="6.9" fill="#262626" stroke="#262626" stroke-width="0.15" text-anchor="middle">65</text><text x="444.80" y="491.30" font-size="6.9" fill="#262626" stroke="#262626" stroke-width="0.15" text-anchor="middle">70</text><text x="454.80" y="491.30" font-size="6.9" fill="#262626" stroke="#262626" stroke-width="0.15" text-anchor="middle">75</text><text x="464.80" y="491.30" font-size="6.9" fill="#262626" stroke="#262626" stroke-width="0.15" text-anchor="middle">80</text><text x="474.80" y="491.30" font-size="6.9" fill="#262626" stroke="#262626" stroke-width="0.15" text-anchor="middle">85</text><text x="484.80" y="491.30" font-size="6.9" fill="#262626" stroke="#262626" stroke-width="0.15" text-anchor="middle">90</text><text x="494.80" y="491.30" font-size="6.9" fill="#262626" stroke="#262626" stroke-width="0.15" text-anchor="middle">95</text><text x="506.50" y="491.30" font-size="6.9" fill="#262626" stroke="#262626" stroke-width="0.15" text-anchor="middle">100</text><path d="M297.60 478.50H300.60M297.60 462.50H300.60M297.60 445.50H300.60M297.60 429.50H300.60M297.60 412.50H300.60M297.60 395.50H300.60M297.60 379.50H300.60M297.60 362.50H300.60M297.60 346.50H300.60M304.50 478.80V481.80M314.50 478.80V481.80M324.50 478.80V481.80M334.50 478.80V481.80M344.50 478.80V481.80M354.50 478.80V481.80M364.50 478.80V481.80M374.50 478.80V481.80M384.50 478.80V481.80M394.50 478.80V481.80M404.50 478.80V481.80M414.50 478.80V481.80M424.50 478.80V481.80M434.50 478.80V481.80M444.50 478.80V481.80M454.50 478.80V481.80M464.50 478.80V481.80M474.50 478.80V481.80M484.50 478.80V481.80M494.50 478.80V481.80M504.50 478.80V481.80" stroke="#000" stroke-width="0.9" fill="none"/><rect x="305.80" y="349.32" width="7.3" height="129.48" fill="#a3002a"/><rect x="315.80" y="437.30" width="7.3" height="41.50" fill="#a3002a"/><rect x="325.80" y="469.17" width="7.3" height="9.63" fill="#a3002a"/><rect x="335.80" y="475.31" width="7.3" height="3.49" fill="#a3002a"/><rect x="345.80" y="476.61" width="7.3" height="2.19" fill="#a3002a"/><rect x="355.80" y="477.47" width="7.3" height="1.33" fill="#a3002a"/><rect x="365.80" y="477.47" width="7.3" height="1.33" fill="#a3002a"/><rect x="375.80" y="477.47" width="7.3" height="1.33" fill="#a3002a"/><rect x="385.80" y="476.81" width="7.3" height="1.99" fill="#a3002a"/><rect x="395.80" y="478.14" width="7.3" height="0.66" fill="#a3002a"/><rect x="405.80" y="476.14" width="7.3" height="2.66" fill="#a3002a"/><rect x="415.80" y="476.97" width="7.3" height="1.83" fill="#a3002a"/><rect x="425.80" y="476.48" width="7.3" height="2.32" fill="#a3002a"/><rect x="435.80" y="475.48" width="7.3" height="3.32" fill="#a3002a"/><rect x="445.80" y="476.14" width="7.3" height="2.66" fill="#a3002a"/><rect x="455.80" y="474.15" width="7.3" height="4.65" fill="#a3002a"/><rect x="465.80" y="473.49" width="7.3" height="5.31" fill="#a3002a"/><rect x="475.80" y="470.17" width="7.3" height="8.63" fill="#a3002a"/><rect x="485.80" y="462.86" width="7.3" height="15.94" fill="#a3002a"/><rect x="495.80" y="414.72" width="7.3" height="64.08" fill="#a3002a"/><text x="18.80" y="408.30" font-size="9.0" fill="#262626" stroke="#262626" stroke-width="0.15" text-anchor="middle" textLength="65.00" lengthAdjust="spacingAndGlyphs" transform="rotate(-90 18.80 408.30)">Relative frequency %</text><text x="280.80" y="408.30" font-size="9.0" fill="#262626" stroke="#262626" stroke-width="0.15" text-anchor="middle" textLength="65.00" lengthAdjust="spacingAndGlyphs" transform="rotate(-90 280.80 408.30)">Relative frequency %</text><text x="129.40" y="504.50" font-size="9.6" fill="#262626" stroke="#262626" stroke-width="0.15" textLength="29.30" lengthAdjust="spacingAndGlyphs">CD49d %</text><text x="390.80" y="504.50" font-size="9.6" fill="#262626" stroke="#262626" stroke-width="0.15" textLength="30.20" lengthAdjust="spacingAndGlyphs">CD49d %</text><rect x="0.5" y="0.5" width="519" height="513" fill="none" stroke="#000" stroke-width="1"/></svg>
</body></html>
